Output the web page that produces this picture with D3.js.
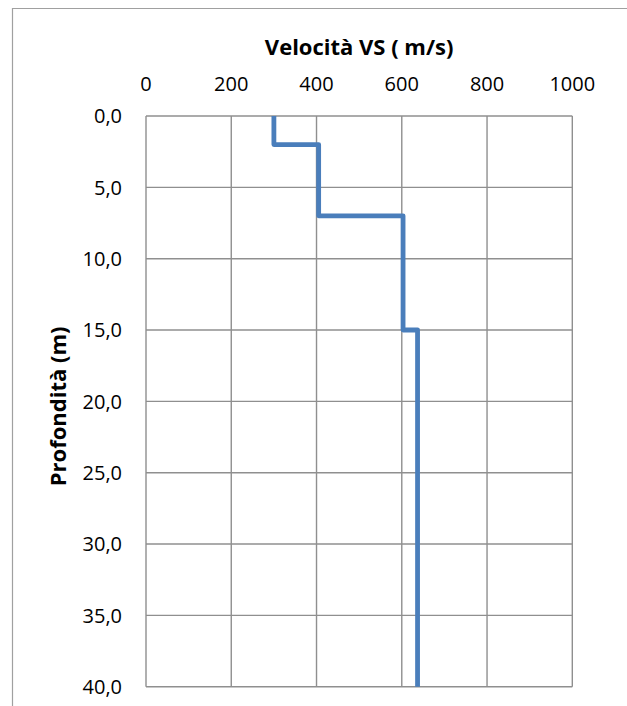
<!DOCTYPE html>
<html><head><meta charset="utf-8">
<script src="https://cdn.jsdelivr.net/npm/d3@7"></script>
<style>html,body{margin:0;padding:0;background:#fff;overflow:hidden}</style>
</head><body>
<svg id="c" width="627" height="706"></svg>
<script>
// Data: layered shear-wave velocity profile
const layerTop = [0, 2, 7, 15];
const layerBottom = [2, 7, 15, 40];
const velocity = [300, 405, 603, 637];
const xTicks = [0, 200, 400, 600, 800, 1000];
const yTicks = [0, 5, 10, 15, 20, 25, 30, 35, 40];
const xTitle = "Velocità VS ( m/s)";
const yTitle = "Profondità (m)";

const svg = d3.select("#c");
const L = 146, R = 572.3, T = 116, B = 686.7;
const x = d3.scaleLinear().domain([0, 1000]).range([L, R]);
const y = d3.scaleLinear().domain([0, 40]).range([T, B]);
const font = "'Open Sans', 'Liberation Sans', sans-serif";
const grid = "#8f8f8f";

// outer frame
svg.append("path").attr("d", "M12.5,706V8.5H627").attr("fill", "none")
  .attr("stroke", "#a0a0a0").attr("stroke-width", 1.2);

// gridlines
svg.append("g").selectAll("line.v").data(xTicks).join("line")
  .attr("x1", d => x(d)).attr("x2", d => x(d)).attr("y1", T).attr("y2", B)
  .attr("stroke", grid).attr("stroke-width", 1.4);
svg.append("g").selectAll("line.h").data(yTicks).join("line")
  .attr("x1", L).attr("x2", R).attr("y1", d => y(d)).attr("y2", d => y(d))
  .attr("stroke", grid).attr("stroke-width", 1.4);

// axes labels
const fmtY = d => d3.format(".1f")(d).replace(".", ",");
svg.append("g").selectAll("text").data(xTicks).join("text")
  .attr("x", d => x(d)).attr("y", 91).attr("text-anchor", "middle")
  .attr("font-family", font).attr("font-size", 20).attr("fill", "#000")
  .text(d => d);
svg.append("g").selectAll("text").data(yTicks).join("text")
  .attr("x", 122).attr("y", d => y(d) + 7.3).attr("text-anchor", "end")
  .attr("font-family", font).attr("font-size", 20).attr("fill", "#000")
  .text(fmtY);

// titles
svg.append("text").attr("x", (L + R) / 2).attr("y", 55).attr("text-anchor", "middle")
  .attr("font-family", font).attr("font-weight", "bold").attr("font-size", 22)
  .text(xTitle);
svg.append("text").attr("transform", `translate(66,${(T + B) / 2 + 5}) rotate(-90)`)
  .attr("text-anchor", "middle")
  .attr("font-family", font).attr("font-weight", "bold").attr("font-size", 22)
  .text(yTitle);

// step profile
const pts = [];
velocity.forEach((v, i) => { pts.push([v, layerTop[i]]); pts.push([v, layerBottom[i]]); });
svg.append("path").datum(pts)
  .attr("d", d3.line().x(d => x(d[0])).y(d => y(d[1])))
  .attr("fill", "none").attr("stroke", "#4a7ebb").attr("stroke-width", 4.8)
  .attr("stroke-linejoin", "round");
</script>
</body></html>
